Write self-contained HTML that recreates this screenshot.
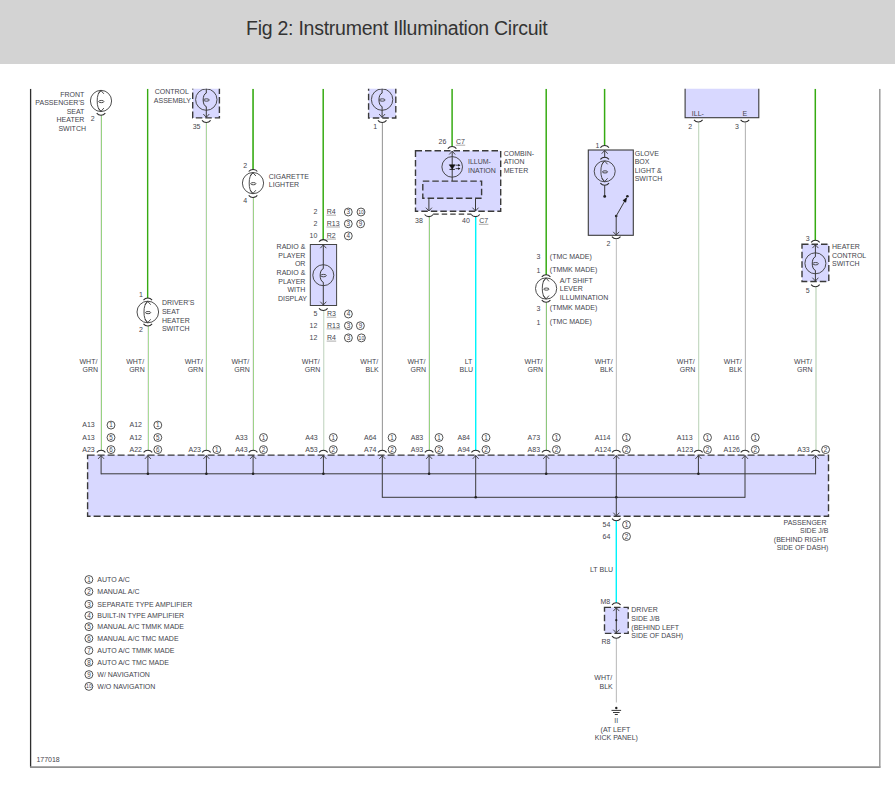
<!DOCTYPE html>
<html><head><meta charset="utf-8"><title>Fig 2: Instrument Illumination Circuit</title>
<style>
html,body{margin:0;padding:0;background:#fff;}
body{width:895px;height:788px;overflow:hidden;position:relative;font-family:"Liberation Sans",sans-serif;}
#hdr{position:absolute;left:0;top:0;width:895px;height:63.5px;background:#d3d3d3;}
#ttl{position:absolute;left:246px;top:16px;font-size:19.5px;line-height:24px;color:#333;white-space:nowrap;letter-spacing:-0.25px;}
svg{position:absolute;left:0;top:0;}
svg text{font-family:"Liberation Sans",sans-serif;fill:#45454d;}
</style></head><body>
<div id="hdr"></div>
<div id="ttl">Fig 2: Instrument Illumination Circuit</div>
<svg width="895" height="788" viewBox="0 0 895 788">
<defs><clipPath id="cp"><rect x="0" y="88.7" width="895" height="700"/></clipPath></defs>
<g clip-path="url(#cp)">
<line x1="30.6" y1="88.7" x2="30.6" y2="767.3" stroke="#2e2e2e" stroke-width="1.3" />
<line x1="30" y1="767.1" x2="880.5" y2="767.1" stroke="#8f8f8f" stroke-width="1.6" />
<line x1="879.8" y1="88.7" x2="879.8" y2="767.5" stroke="#9a9a9a" stroke-width="1.5" />
<line x1="147.65" y1="88.7" x2="147.65" y2="298.1" stroke="#36ab12" stroke-width="1.4" />
<line x1="253.05" y1="88.7" x2="253.05" y2="169.5" stroke="#36ab12" stroke-width="1.6" />
<line x1="323.2" y1="88.7" x2="323.2" y2="239.8" stroke="#36ab12" stroke-width="1.5" />
<line x1="452.1" y1="88.7" x2="452.1" y2="146.6" stroke="#36ab12" stroke-width="1.5" />
<line x1="546.2" y1="88.7" x2="546.2" y2="274.9" stroke="#36ab12" stroke-width="1.5" />
<line x1="604.6" y1="88.7" x2="604.6" y2="145.7" stroke="#36ab12" stroke-width="1.5" />
<line x1="815.3" y1="88.7" x2="815.3" y2="240.2" stroke="#36ab12" stroke-width="1.5" />
<line x1="100.5" y1="115.2" x2="100.5" y2="450.4" stroke="#efe9ec" stroke-width="1" />
<line x1="101.5" y1="115.2" x2="101.5" y2="450.4" stroke="#96d282" stroke-width="1" />
<line x1="147.5" y1="326" x2="147.5" y2="450.4" stroke="#efe9ec" stroke-width="1" />
<line x1="148.5" y1="326" x2="148.5" y2="450.4" stroke="#a8dc98" stroke-width="1" />
<line x1="205.5" y1="122.4" x2="205.5" y2="450.4" stroke="#f3ecf2" stroke-width="1" />
<line x1="206.5" y1="122.4" x2="206.5" y2="450.4" stroke="#aad79e" stroke-width="1" />
<line x1="252.5" y1="197.4" x2="252.5" y2="450.4" stroke="#f1eaf0" stroke-width="1" />
<line x1="253.5" y1="197.4" x2="253.5" y2="450.4" stroke="#9cd288" stroke-width="1" />
<line x1="324.5" y1="310.4" x2="324.5" y2="450.4" stroke="#ecf5ea" stroke-width="1" />
<line x1="323.5" y1="310.4" x2="323.5" y2="450.4" stroke="#cfdccf" stroke-width="1" />
<line x1="381.5" y1="122.4" x2="381.5" y2="450.4" stroke="#f0f0f0" stroke-width="1" />
<line x1="382.5" y1="122.4" x2="382.5" y2="450.4" stroke="#a0a0a0" stroke-width="1" />
<line x1="428.5" y1="216.6" x2="428.5" y2="450.4" stroke="#eee9ec" stroke-width="1" />
<line x1="429.5" y1="216.6" x2="429.5" y2="450.4" stroke="#96d482" stroke-width="1" />
<line x1="475.7" y1="216.6" x2="475.7" y2="450.4" stroke="#00f4fb" stroke-width="1.45" />
<line x1="545.5" y1="302.3" x2="545.5" y2="450.4" stroke="#f0f0ec" stroke-width="1" />
<line x1="546.5" y1="302.3" x2="546.5" y2="450.4" stroke="#8cc87d" stroke-width="1" />
<line x1="615.5" y1="239.5" x2="615.5" y2="450.4" stroke="#f4f4f4" stroke-width="1" />
<line x1="616.5" y1="239.5" x2="616.5" y2="450.4" stroke="#c6c6c6" stroke-width="1" />
<line x1="699.5" y1="122.5" x2="699.5" y2="450.4" stroke="#eef9ee" stroke-width="1" />
<line x1="698.5" y1="122.5" x2="698.5" y2="450.4" stroke="#c8dac6" stroke-width="1" />
<line x1="744.5" y1="122.5" x2="744.5" y2="450.4" stroke="#f4f4f4" stroke-width="1" />
<line x1="745.5" y1="122.5" x2="745.5" y2="450.4" stroke="#b9b9b9" stroke-width="1" />
<line x1="816" y1="286.7" x2="816" y2="450.4" stroke="#d6e4d4" stroke-width="2" />
<line x1="616.3" y1="520.7" x2="616.3" y2="602.8" stroke="#00f4fb" stroke-width="1.45" />
<line x1="615.5" y1="638.3" x2="615.5" y2="702.5" stroke="#f4f4f4" stroke-width="1" />
<line x1="616.5" y1="638.3" x2="616.5" y2="702.5" stroke="#c2c2c2" stroke-width="1" />
<circle cx="101" cy="100.95" r="10.6" fill="none" stroke="#3a3a3a" stroke-width="0.9"/>
<path d="M101,90.35000000000001 C98.4,92.55000000000001 97.1,95.95 97.2,100.95 C97.1,105.95 98.4,109.35 101,111.55" fill="none" stroke="#3a3a3a" stroke-width="0.9"/>
<ellipse cx="101.3" cy="101.55" rx="2.6" ry="1.1" fill="none" stroke="#3a3a3a" stroke-width="0.9"/>
<path d="M98.1,93.85000000000001 L101,90.65 L103.9,93.85000000000001" fill="none" stroke="#3a3a3a" stroke-width="0.9"/>
<path d="M98.1,108.05 L101,111.25 L103.9,108.05" fill="none" stroke="#3a3a3a" stroke-width="0.9"/>
<path d="M96.7,113.10000000000001 Q98.4,115.2 101,115.2 Q103.6,115.2 105.3,113.10000000000001" fill="none" stroke="#2c2c2c" stroke-width="1.05"/>
<text x="84.4" y="97" text-anchor="end" font-size="7" >FRONT</text>
<text x="84.4" y="105.1" text-anchor="end" font-size="7" >PASSENGER'S</text>
<text x="84.4" y="113.5" text-anchor="end" font-size="7" >SEAT</text>
<text x="84.4" y="121.7" text-anchor="end" font-size="7" >HEATER</text>
<text x="86" y="130.9" text-anchor="end" font-size="7" >SWITCH</text>
<text x="92.8" y="121.4" text-anchor="middle" font-size="7" >2</text>
<path d="M143.5,300.1 Q145.20000000000002,298 147.8,298 Q150.4,298 152.10000000000002,300.1" fill="none" stroke="#2c2c2c" stroke-width="1.05"/>
<circle cx="147.8" cy="312" r="10.8" fill="none" stroke="#3a3a3a" stroke-width="0.9"/>
<path d="M147.8,301.2 C145.20000000000002,303.4 143.9,307 144.0,312 C143.9,317 145.20000000000002,320.6 147.8,322.8" fill="none" stroke="#3a3a3a" stroke-width="0.9"/>
<ellipse cx="148.10000000000002" cy="312.6" rx="2.6" ry="1.1" fill="none" stroke="#3a3a3a" stroke-width="0.9"/>
<path d="M144.9,304.7 L147.8,301.5 L150.70000000000002,304.7" fill="none" stroke="#3a3a3a" stroke-width="0.9"/>
<path d="M144.9,319.3 L147.8,322.5 L150.70000000000002,319.3" fill="none" stroke="#3a3a3a" stroke-width="0.9"/>
<path d="M143.5,323.9 Q145.20000000000002,326 147.8,326 Q150.4,326 152.10000000000002,323.9" fill="none" stroke="#2c2c2c" stroke-width="1.05"/>
<text x="140.9" y="296.9" text-anchor="middle" font-size="7" >1</text>
<text x="140.9" y="332.1" text-anchor="middle" font-size="7" >2</text>
<text x="161.9" y="304.6" font-size="7" >DRIVER'S</text>
<text x="161.9" y="313.6" font-size="7" >SEAT</text>
<text x="161.9" y="322.5" font-size="7" >HEATER</text>
<text x="161.9" y="330.9" font-size="7" >SWITCH</text>
<rect x="192.7" y="85.7" width="26.7" height="32.2" fill="#d8d8ff" stroke="#3a3a3a" stroke-width="1.4" stroke-dasharray="6.5 3"/>
<circle cx="206.3" cy="99.6" r="10.7" fill="none" stroke="#3a3a3a" stroke-width="0.9"/>
<path d="M206.3,85.7 L206.3,93.1 C202.10000000000002,94.1 202.10000000000002,105.6 206.3,106.6 L206.3,117.6" fill="none" stroke="#3a3a3a" stroke-width="1"/>
<ellipse cx="206.5" cy="100.0" rx="2.8" ry="1.2" fill="none" stroke="#3a3a3a" stroke-width="0.9"/>
<path d="M203.3,114.0 L206.3,117.3 L209.3,114.0" fill="none" stroke="#3a3a3a" stroke-width="0.9"/>
<path d="M202.0,120.30000000000001 Q203.70000000000002,122.4 206.3,122.4 Q208.9,122.4 210.60000000000002,120.30000000000001" fill="none" stroke="#2c2c2c" stroke-width="1.05"/>
<text x="154.7" y="94" font-size="7" >CONTROL</text>
<text x="153.8" y="102.9" font-size="7" >ASSEMBLY</text>
<text x="196.6" y="128.7" text-anchor="middle" font-size="7" >35</text>
<path d="M248.7,171.5 Q250.4,169.4 253,169.4 Q255.6,169.4 257.3,171.5" fill="none" stroke="#2c2c2c" stroke-width="1.05"/>
<circle cx="253" cy="183.1" r="10.6" fill="none" stroke="#3a3a3a" stroke-width="0.9"/>
<path d="M253,172.5 C250.4,174.7 249.1,178.1 249.2,183.1 C249.1,188.1 250.4,191.5 253,193.7" fill="none" stroke="#3a3a3a" stroke-width="0.9"/>
<ellipse cx="253.3" cy="183.7" rx="2.6" ry="1.1" fill="none" stroke="#3a3a3a" stroke-width="0.9"/>
<path d="M250.1,176.00000000000003 L253,172.8 L255.9,176.00000000000003" fill="none" stroke="#3a3a3a" stroke-width="0.9"/>
<path d="M250.1,190.19999999999996 L253,193.39999999999998 L255.9,190.19999999999996" fill="none" stroke="#3a3a3a" stroke-width="0.9"/>
<path d="M248.7,195.3 Q250.4,197.4 253,197.4 Q255.6,197.4 257.3,195.3" fill="none" stroke="#2c2c2c" stroke-width="1.05"/>
<text x="245.2" y="167.9" text-anchor="middle" font-size="7" >2</text>
<text x="245.2" y="203.0" text-anchor="middle" font-size="7" >4</text>
<text x="268.8" y="178.8" font-size="7" >CIGARETTE</text>
<text x="268.8" y="186.6" font-size="7" >LIGHTER</text>
<text x="317.3" y="214.2" text-anchor="end" font-size="7" >2</text>
<text x="326.8" y="214.2" font-size="7" >R4</text>
<line x1="326.5" y1="215.2" x2="336.0" y2="215.2" stroke="#888" stroke-width="0.7" />
<circle cx="348.3" cy="212.0" r="3.95" fill="#fff" stroke="#333" stroke-width="0.85"/>
<text x="348.3" y="214.25" text-anchor="middle" font-size="6.3">3</text>
<circle cx="361" cy="212.0" r="3.95" fill="#fff" stroke="#333" stroke-width="0.85"/>
<text x="361" y="214.0" text-anchor="middle" font-size="5.2" textLength="5.6" lengthAdjust="spacingAndGlyphs">10</text>
<text x="317.3" y="226.0" text-anchor="end" font-size="7" >2</text>
<text x="326.8" y="226.0" font-size="7" >R13</text>
<line x1="326.5" y1="227.0" x2="340.0" y2="227.0" stroke="#888" stroke-width="0.7" />
<circle cx="348.3" cy="223.8" r="3.95" fill="#fff" stroke="#333" stroke-width="0.85"/>
<text x="348.3" y="226.05" text-anchor="middle" font-size="6.3">3</text>
<circle cx="360.6" cy="223.8" r="3.95" fill="#fff" stroke="#333" stroke-width="0.85"/>
<text x="360.6" y="226.05" text-anchor="middle" font-size="6.3">9</text>
<text x="317.3" y="238.1" text-anchor="end" font-size="7" >10</text>
<text x="326.8" y="238.1" font-size="7" >R2</text>
<line x1="326.5" y1="239.1" x2="336.0" y2="239.1" stroke="#888" stroke-width="0.7" />
<circle cx="348.3" cy="235.9" r="3.95" fill="#fff" stroke="#333" stroke-width="0.85"/>
<text x="348.3" y="238.15" text-anchor="middle" font-size="6.3">4</text>
<path d="M319.0,241.7 Q320.7,239.6 323.3,239.6 Q325.90000000000003,239.6 327.6,241.7" fill="none" stroke="#2c2c2c" stroke-width="1.05"/>
<rect x="310.3" y="244.5" width="26.3" height="61" fill="#d8d8ff" stroke="#444" stroke-width="1"/>
<circle cx="323.3" cy="275.2" r="10.5" fill="none" stroke="#3a3a3a" stroke-width="0.9"/>
<path d="M323.3,244.6 L323.3,268.7 C319.1,269.7 319.1,281.2 323.3,282.2 L323.3,305.3" fill="none" stroke="#3a3a3a" stroke-width="1"/>
<ellipse cx="323.5" cy="275.59999999999997" rx="2.8" ry="1.2" fill="none" stroke="#3a3a3a" stroke-width="0.9"/>
<path d="M320.3,248.20000000000002 L323.3,244.9 L326.3,248.20000000000002" fill="none" stroke="#3a3a3a" stroke-width="0.9"/>
<path d="M320.3,301.7 L323.3,305.0 L326.3,301.7" fill="none" stroke="#3a3a3a" stroke-width="0.9"/>
<path d="M319.0,308.29999999999995 Q320.7,310.4 323.3,310.4 Q325.90000000000003,310.4 327.6,308.29999999999995" fill="none" stroke="#2c2c2c" stroke-width="1.05"/>
<text x="305.4" y="248.8" text-anchor="end" font-size="7" >RADIO &amp;</text>
<text x="305.4" y="257.7" text-anchor="end" font-size="7" >PLAYER</text>
<text x="305.4" y="266" text-anchor="end" font-size="7" >OR</text>
<text x="305.4" y="274.9" text-anchor="end" font-size="7" >RADIO &amp;</text>
<text x="305.4" y="283.7" text-anchor="end" font-size="7" >PLAYER</text>
<text x="305.4" y="292" text-anchor="end" font-size="7" >WITH</text>
<text x="307" y="300.9" text-anchor="end" font-size="7" >DISPLAY</text>
<text x="317.3" y="316.2" text-anchor="end" font-size="7" >5</text>
<text x="327" y="316.2" font-size="7" >R3</text>
<line x1="326.7" y1="317.2" x2="336.2" y2="317.2" stroke="#888" stroke-width="0.7" />
<circle cx="348.4" cy="314.0" r="3.95" fill="#fff" stroke="#333" stroke-width="0.85"/>
<text x="348.4" y="316.25" text-anchor="middle" font-size="6.3">4</text>
<text x="317.3" y="327.9" text-anchor="end" font-size="7" >12</text>
<text x="327" y="327.9" font-size="7" >R13</text>
<line x1="326.7" y1="328.9" x2="340.2" y2="328.9" stroke="#888" stroke-width="0.7" />
<circle cx="348.4" cy="325.7" r="3.95" fill="#fff" stroke="#333" stroke-width="0.85"/>
<text x="348.4" y="327.95" text-anchor="middle" font-size="6.3">3</text>
<circle cx="360.4" cy="325.7" r="3.95" fill="#fff" stroke="#333" stroke-width="0.85"/>
<text x="360.4" y="327.95" text-anchor="middle" font-size="6.3">9</text>
<text x="317.3" y="340.1" text-anchor="end" font-size="7" >12</text>
<text x="327" y="340.1" font-size="7" >R4</text>
<line x1="326.7" y1="341.1" x2="336.2" y2="341.1" stroke="#888" stroke-width="0.7" />
<circle cx="348.4" cy="337.90000000000003" r="3.95" fill="#fff" stroke="#333" stroke-width="0.85"/>
<text x="348.4" y="340.15000000000003" text-anchor="middle" font-size="6.3">3</text>
<circle cx="361.4" cy="337.90000000000003" r="3.95" fill="#fff" stroke="#333" stroke-width="0.85"/>
<text x="361.4" y="339.90000000000003" text-anchor="middle" font-size="5.2" textLength="5.6" lengthAdjust="spacingAndGlyphs">10</text>
<rect x="368.6" y="85.7" width="27.2" height="32.3" fill="#d8d8ff" stroke="#3a3a3a" stroke-width="1.4" stroke-dasharray="6.5 3"/>
<circle cx="382.1" cy="99.6" r="10.7" fill="none" stroke="#3a3a3a" stroke-width="0.9"/>
<path d="M382.1,85.7 L382.1,93.1 C377.90000000000003,94.1 377.90000000000003,105.6 382.1,106.6 L382.1,117.6" fill="none" stroke="#3a3a3a" stroke-width="1"/>
<ellipse cx="382.3" cy="100.0" rx="2.8" ry="1.2" fill="none" stroke="#3a3a3a" stroke-width="0.9"/>
<path d="M379.1,114.0 L382.1,117.3 L385.1,114.0" fill="none" stroke="#3a3a3a" stroke-width="0.9"/>
<path d="M377.9,120.30000000000001 Q379.59999999999997,122.4 382.2,122.4 Q384.8,122.4 386.5,120.30000000000001" fill="none" stroke="#2c2c2c" stroke-width="1.05"/>
<text x="375.3" y="128.7" text-anchor="middle" font-size="7" >1</text>
<text x="442.4" y="144.2" text-anchor="middle" font-size="7" >26</text>
<text x="456" y="144.2" font-size="7" >C7</text>
<line x1="455.7" y1="145.2" x2="465.2" y2="145.2" stroke="#888" stroke-width="0.7" />
<path d="M447.8,148.6 Q449.5,146.5 452.1,146.5 Q454.70000000000005,146.5 456.40000000000003,148.6" fill="none" stroke="#2c2c2c" stroke-width="1.05"/>
<rect x="415.5" y="150.8" width="85.2" height="60.4" fill="#d8d8ff" stroke="#3a3a3a" stroke-width="1.4" stroke-dasharray="6.5 3"/>
<rect x="422.8" y="181.1" width="58.8" height="17.2" fill="#cdcdff" stroke="#3a3a3a" stroke-width="1.4" stroke-dasharray="6.5 3"/>
<circle cx="452.2" cy="166.9" r="10.3" fill="none" stroke="#3a3a3a" stroke-width="0.9"/>
<line x1="452.2" y1="151" x2="452.2" y2="181" stroke="#3a3a3a" stroke-width="1" />
<path d="M449.2,154.5 L452.2,151.2 L455.2,154.5" fill="none" stroke="#3a3a3a" stroke-width="0.9"/>
<path d="M449.3,164.8 L455.1,164.8 L452.2,169 Z" fill="#111" stroke="#111" stroke-width="0.6"/>
<line x1="449.5" y1="169.4" x2="454.9" y2="169.4" stroke="#111" stroke-width="0.9" />
<line x1="455.6" y1="165.2" x2="459.6" y2="165.2" stroke="#222" stroke-width="0.8" />
<path d="M458.2,163.89999999999998 L460.3,165.2 L458.2,166.5 Z" fill="#111"/>
<line x1="455.6" y1="168.6" x2="459.6" y2="168.6" stroke="#222" stroke-width="0.8" />
<path d="M458.2,167.29999999999998 L460.3,168.6 L458.2,169.9 Z" fill="#111"/>
<line x1="428.9" y1="198.4" x2="428.9" y2="211" stroke="#3a3a3a" stroke-width="1" />
<path d="M425.9,207.7 L428.9,211 L431.9,207.7" fill="none" stroke="#3a3a3a" stroke-width="0.9"/>
<path d="M424.59999999999997,214.5 Q426.29999999999995,216.6 428.9,216.6 Q431.5,216.6 433.2,214.5" fill="none" stroke="#2c2c2c" stroke-width="1.05"/>
<line x1="475.5" y1="198.4" x2="475.5" y2="211" stroke="#3a3a3a" stroke-width="1" />
<path d="M472.5,207.7 L475.5,211 L478.5,207.7" fill="none" stroke="#3a3a3a" stroke-width="0.9"/>
<path d="M471.2,214.5 Q472.9,216.6 475.5,216.6 Q478.1,216.6 479.8,214.5" fill="none" stroke="#2c2c2c" stroke-width="1.05"/>
<line x1="433.2" y1="214.2" x2="471.3" y2="214.2" stroke="#3a3a3a" stroke-width="1.2" stroke-dasharray="5.5 3"/>
<text x="419" y="223.3" text-anchor="middle" font-size="7" >38</text>
<text x="466" y="223.3" text-anchor="middle" font-size="7" >40</text>
<text x="479.2" y="223.3" font-size="7" >C7</text>
<line x1="478.9" y1="224.3" x2="488.4" y2="224.3" stroke="#888" stroke-width="0.7" />
<text x="468" y="163.8" font-size="7" >ILLUM-</text>
<text x="468" y="172.7" font-size="7" >INATION</text>
<text x="503.7" y="156" font-size="7" >COMBIN-</text>
<text x="503.7" y="164" font-size="7" >ATION</text>
<text x="503.7" y="173" font-size="7" >METER</text>
<path d="M541.8000000000001,276.8 Q543.5,274.7 546.1,274.7 Q548.7,274.7 550.4,276.8" fill="none" stroke="#2c2c2c" stroke-width="1.05"/>
<circle cx="546.1" cy="288.5" r="10.6" fill="none" stroke="#3a3a3a" stroke-width="0.9"/>
<path d="M546.1,277.9 C543.5,280.09999999999997 542.2,283.5 542.3000000000001,288.5 C542.2,293.5 543.5,296.90000000000003 546.1,299.1" fill="none" stroke="#3a3a3a" stroke-width="0.9"/>
<ellipse cx="546.4" cy="289.1" rx="2.6" ry="1.1" fill="none" stroke="#3a3a3a" stroke-width="0.9"/>
<path d="M543.2,281.4 L546.1,278.2 L549.0,281.4" fill="none" stroke="#3a3a3a" stroke-width="0.9"/>
<path d="M543.2,295.6 L546.1,298.8 L549.0,295.6" fill="none" stroke="#3a3a3a" stroke-width="0.9"/>
<path d="M541.8000000000001,300.2 Q543.5,302.3 546.1,302.3 Q548.7,302.3 550.4,300.2" fill="none" stroke="#2c2c2c" stroke-width="1.05"/>
<text x="538.4" y="259.3" text-anchor="middle" font-size="7" >3</text>
<text x="538.4" y="273.1" text-anchor="middle" font-size="7" >1</text>
<text x="538.4" y="311.2" text-anchor="middle" font-size="7" >3</text>
<text x="538.4" y="324.7" text-anchor="middle" font-size="7" >1</text>
<text x="549.8" y="259.2" font-size="7" >(TMC MADE)</text>
<text x="549.8" y="272.2" font-size="7" >(TMMK MADE)</text>
<text x="559.8" y="282.9" font-size="7" >A/T SHIFT</text>
<text x="559.8" y="291" font-size="7" >LEVER</text>
<text x="559.8" y="299.7" font-size="7" >ILLUMINATION</text>
<text x="549.8" y="310.2" font-size="7" >(TMMK MADE)</text>
<text x="549.8" y="324.3" font-size="7" >(TMC MADE)</text>
<text x="597.4" y="147.8" text-anchor="middle" font-size="7" >1</text>
<path d="M600.4000000000001,147.6 Q602.1,145.5 604.7,145.5 Q607.3000000000001,145.5 609.0,147.6" fill="none" stroke="#2c2c2c" stroke-width="1.05"/>
<rect x="588.3" y="150" width="45" height="85.3" fill="#d8d8ff" stroke="#3a3a3a" stroke-width="1.1"/>
<line x1="604.7" y1="150.2" x2="604.7" y2="157.5" stroke="#3a3a3a" stroke-width="1" />
<path d="M601.7,153.70000000000002 L604.7,150.4 L607.7,153.70000000000002" fill="none" stroke="#3a3a3a" stroke-width="0.9"/>
<path d="M600.4000000000001,159.4 Q602.1,157.3 604.7,157.3 Q607.3000000000001,157.3 609.0,159.4" fill="none" stroke="#2c2c2c" stroke-width="1.05"/>
<circle cx="604.7" cy="171.3" r="10.5" fill="none" stroke="#3a3a3a" stroke-width="0.9"/>
<path d="M604.7,160.8 C602.1,163.0 600.8000000000001,166.3 600.9000000000001,171.3 C600.8000000000001,176.3 602.1,179.60000000000002 604.7,181.8" fill="none" stroke="#3a3a3a" stroke-width="0.9"/>
<ellipse cx="605.0" cy="171.9" rx="2.6" ry="1.1" fill="none" stroke="#3a3a3a" stroke-width="0.9"/>
<path d="M601.8000000000001,164.30000000000004 L604.7,161.10000000000002 L607.6,164.30000000000004" fill="none" stroke="#3a3a3a" stroke-width="0.9"/>
<path d="M601.8000000000001,178.29999999999998 L604.7,181.5 L607.6,178.29999999999998" fill="none" stroke="#3a3a3a" stroke-width="0.9"/>
<path d="M600.4000000000001,183.1 Q602.1,185.2 604.7,185.2 Q607.3000000000001,185.2 609.0,183.1" fill="none" stroke="#2c2c2c" stroke-width="1.05"/>
<line x1="604.7" y1="185.2" x2="604.7" y2="196.3" stroke="#3a3a3a" stroke-width="1" />
<circle cx="604.7" cy="196.4" r="1.4" fill="#222"/>
<circle cx="627.4" cy="196.3" r="1.3" fill="#222"/>
<circle cx="616.2" cy="216" r="1.3" fill="#222"/>
<line x1="616.2" y1="216" x2="626.3" y2="198.3" stroke="#3a3a3a" stroke-width="1" />
<path d="M626.6,197.8 L625.9,202.3 L622.9,200.5 Z" fill="#111" stroke="#111" stroke-width="0.5"/>
<line x1="616.2" y1="216" x2="616.2" y2="235.2" stroke="#3a3a3a" stroke-width="1" />
<path d="M613.2,231.79999999999998 L616.2,235.1 L619.2,231.79999999999998" fill="none" stroke="#3a3a3a" stroke-width="0.9"/>
<path d="M611.9000000000001,236.70000000000002 Q613.6,238.8 616.2,238.8 Q618.8000000000001,238.8 620.5,236.70000000000002" fill="none" stroke="#2c2c2c" stroke-width="1.05"/>
<text x="608.5" y="246.3" text-anchor="middle" font-size="7" >2</text>
<text x="634.7" y="155.9" font-size="7" >GLOVE</text>
<text x="634.7" y="164" font-size="7" >BOX</text>
<text x="634.7" y="172.7" font-size="7" >LIGHT &amp;</text>
<text x="634.7" y="180.7" font-size="7" >SWITCH</text>
<rect x="685.1" y="85.7" width="73.7" height="32.0" fill="#d8d8ff" stroke="#3a3a3a" stroke-width="1.1"/>
<text x="691.8" y="115.6" font-size="7" >ILL-</text>
<text x="742.6" y="115.6" font-size="7" >E</text>
<path d="M694.0,119.80000000000001 Q695.6999999999999,121.9 698.3,121.9 Q700.9,121.9 702.5999999999999,119.80000000000001" fill="none" stroke="#2c2c2c" stroke-width="1.05"/>
<path d="M740.6,119.80000000000001 Q742.3,121.9 744.9,121.9 Q747.5,121.9 749.1999999999999,119.80000000000001" fill="none" stroke="#2c2c2c" stroke-width="1.05"/>
<text x="690.1" y="129.1" text-anchor="middle" font-size="7" >2</text>
<text x="737" y="129.1" text-anchor="middle" font-size="7" >3</text>
<text x="807.6" y="240.9" text-anchor="middle" font-size="7" >3</text>
<text x="807.6" y="293.1" text-anchor="middle" font-size="7" >5</text>
<path d="M811.1,242.29999999999998 Q812.8,240.2 815.4,240.2 Q818.0,240.2 819.6999999999999,242.29999999999998" fill="none" stroke="#2c2c2c" stroke-width="1.05"/>
<rect x="802" y="244.3" width="26.8" height="37.2" fill="#d8d8ff" stroke="#3a3a3a" stroke-width="1.4" stroke-dasharray="6.5 3"/>
<circle cx="815.4" cy="263.3" r="10.5" fill="none" stroke="#3a3a3a" stroke-width="0.9"/>
<path d="M815.4,244.5 L815.4,256.8 C811.1999999999999,257.8 811.1999999999999,269.3 815.4,270.3 L815.4,281.3" fill="none" stroke="#3a3a3a" stroke-width="1"/>
<ellipse cx="815.6" cy="263.7" rx="2.8" ry="1.2" fill="none" stroke="#3a3a3a" stroke-width="0.9"/>
<path d="M812.4,248.10000000000002 L815.4,244.8 L818.4,248.10000000000002" fill="none" stroke="#3a3a3a" stroke-width="0.9"/>
<path d="M812.4,277.7 L815.4,281.0 L818.4,277.7" fill="none" stroke="#3a3a3a" stroke-width="0.9"/>
<path d="M811.1,284.59999999999997 Q812.8,286.7 815.4,286.7 Q818.0,286.7 819.6999999999999,284.59999999999997" fill="none" stroke="#2c2c2c" stroke-width="1.05"/>
<text x="832" y="248.8" font-size="7" >HEATER</text>
<text x="832" y="258" font-size="7" >CONTROL</text>
<text x="832" y="265.6" font-size="7" >SWITCH</text>
<text x="97.4" y="364.2" text-anchor="end" font-size="7" >WHT/</text>
<text x="98.0" y="372.1" text-anchor="end" font-size="7" >GRN</text>
<text x="144.1" y="364.2" text-anchor="end" font-size="7" >WHT/</text>
<text x="144.7" y="372.1" text-anchor="end" font-size="7" >GRN</text>
<text x="202.6" y="364.2" text-anchor="end" font-size="7" >WHT/</text>
<text x="203.2" y="372.1" text-anchor="end" font-size="7" >GRN</text>
<text x="249.3" y="364.2" text-anchor="end" font-size="7" >WHT/</text>
<text x="249.9" y="372.1" text-anchor="end" font-size="7" >GRN</text>
<text x="319.7" y="364.2" text-anchor="end" font-size="7" >WHT/</text>
<text x="320.3" y="372.1" text-anchor="end" font-size="7" >GRN</text>
<text x="378.2" y="364.2" text-anchor="end" font-size="7" >WHT/</text>
<text x="378.8" y="372.1" text-anchor="end" font-size="7" >BLK</text>
<text x="425.4" y="364.2" text-anchor="end" font-size="7" >WHT/</text>
<text x="426.0" y="372.1" text-anchor="end" font-size="7" >GRN</text>
<text x="472.3" y="364.2" text-anchor="end" font-size="7" >LT</text>
<text x="473.1" y="372.1" text-anchor="end" font-size="7" >BLU</text>
<text x="542.5" y="364.2" text-anchor="end" font-size="7" >WHT/</text>
<text x="543.1" y="372.1" text-anchor="end" font-size="7" >GRN</text>
<text x="612.6" y="364.2" text-anchor="end" font-size="7" >WHT/</text>
<text x="613.2" y="372.1" text-anchor="end" font-size="7" >BLK</text>
<text x="694.6999999999999" y="364.2" text-anchor="end" font-size="7" >WHT/</text>
<text x="695.3" y="372.1" text-anchor="end" font-size="7" >GRN</text>
<text x="741.6999999999999" y="364.2" text-anchor="end" font-size="7" >WHT/</text>
<text x="742.3" y="372.1" text-anchor="end" font-size="7" >BLK</text>
<text x="812.0" y="364.2" text-anchor="end" font-size="7" >WHT/</text>
<text x="812.6" y="372.1" text-anchor="end" font-size="7" >GRN</text>
<text x="82.3" y="427.4" font-size="7" >A13</text>
<circle cx="111" cy="425.09999999999997" r="3.95" fill="#fff" stroke="#333" stroke-width="0.85"/>
<text x="111" y="427.34999999999997" text-anchor="middle" font-size="6.3">1</text>
<text x="82.3" y="439.8" font-size="7" >A13</text>
<circle cx="111" cy="437.5" r="3.95" fill="#fff" stroke="#333" stroke-width="0.85"/>
<text x="111" y="439.75" text-anchor="middle" font-size="6.3">5</text>
<text x="82.3" y="451.9" font-size="7" >A23</text>
<circle cx="111" cy="449.59999999999997" r="3.95" fill="#fff" stroke="#333" stroke-width="0.85"/>
<text x="111" y="451.84999999999997" text-anchor="middle" font-size="6.3">6</text>
<text x="129.5" y="427.4" font-size="7" >A12</text>
<circle cx="157.8" cy="425.09999999999997" r="3.95" fill="#fff" stroke="#333" stroke-width="0.85"/>
<text x="157.8" y="427.34999999999997" text-anchor="middle" font-size="6.3">1</text>
<text x="129.5" y="439.8" font-size="7" >A12</text>
<circle cx="157.8" cy="437.5" r="3.95" fill="#fff" stroke="#333" stroke-width="0.85"/>
<text x="157.8" y="439.75" text-anchor="middle" font-size="6.3">5</text>
<text x="129.5" y="451.9" font-size="7" >A22</text>
<circle cx="157.8" cy="449.59999999999997" r="3.95" fill="#fff" stroke="#333" stroke-width="0.85"/>
<text x="157.8" y="451.84999999999997" text-anchor="middle" font-size="6.3">6</text>
<text x="188.5" y="451.9" font-size="7" >A23</text>
<circle cx="216.8" cy="449.59999999999997" r="3.95" fill="#fff" stroke="#333" stroke-width="0.85"/>
<text x="216.8" y="451.84999999999997" text-anchor="middle" font-size="6.3">1</text>
<text x="235.2" y="439.8" font-size="7" >A33</text>
<circle cx="263.5" cy="437.5" r="3.95" fill="#fff" stroke="#333" stroke-width="0.85"/>
<text x="263.5" y="439.75" text-anchor="middle" font-size="6.3">1</text>
<text x="235.2" y="451.9" font-size="7" >A43</text>
<circle cx="263.5" cy="449.59999999999997" r="3.95" fill="#fff" stroke="#333" stroke-width="0.85"/>
<text x="263.5" y="451.84999999999997" text-anchor="middle" font-size="6.3">2</text>
<text x="305.3" y="439.8" font-size="7" >A43</text>
<circle cx="333.3" cy="437.5" r="3.95" fill="#fff" stroke="#333" stroke-width="0.85"/>
<text x="333.3" y="439.75" text-anchor="middle" font-size="6.3">1</text>
<text x="305.3" y="451.9" font-size="7" >A53</text>
<circle cx="333.3" cy="449.59999999999997" r="3.95" fill="#fff" stroke="#333" stroke-width="0.85"/>
<text x="333.3" y="451.84999999999997" text-anchor="middle" font-size="6.3">2</text>
<text x="364" y="439.8" font-size="7" >A64</text>
<circle cx="392.1" cy="437.5" r="3.95" fill="#fff" stroke="#333" stroke-width="0.85"/>
<text x="392.1" y="439.75" text-anchor="middle" font-size="6.3">1</text>
<text x="364" y="451.9" font-size="7" >A74</text>
<circle cx="392.1" cy="449.59999999999997" r="3.95" fill="#fff" stroke="#333" stroke-width="0.85"/>
<text x="392.1" y="451.84999999999997" text-anchor="middle" font-size="6.3">2</text>
<text x="410.8" y="439.8" font-size="7" >A83</text>
<circle cx="439" cy="437.5" r="3.95" fill="#fff" stroke="#333" stroke-width="0.85"/>
<text x="439" y="439.75" text-anchor="middle" font-size="6.3">1</text>
<text x="410.8" y="451.9" font-size="7" >A93</text>
<circle cx="439" cy="449.59999999999997" r="3.95" fill="#fff" stroke="#333" stroke-width="0.85"/>
<text x="439" y="451.84999999999997" text-anchor="middle" font-size="6.3">2</text>
<text x="457.5" y="439.8" font-size="7" >A84</text>
<circle cx="486" cy="437.5" r="3.95" fill="#fff" stroke="#333" stroke-width="0.85"/>
<text x="486" y="439.75" text-anchor="middle" font-size="6.3">1</text>
<text x="457.5" y="451.9" font-size="7" >A94</text>
<circle cx="486" cy="449.59999999999997" r="3.95" fill="#fff" stroke="#333" stroke-width="0.85"/>
<text x="486" y="451.84999999999997" text-anchor="middle" font-size="6.3">2</text>
<text x="527.6" y="439.8" font-size="7" >A73</text>
<circle cx="556.4" cy="437.5" r="3.95" fill="#fff" stroke="#333" stroke-width="0.85"/>
<text x="556.4" y="439.75" text-anchor="middle" font-size="6.3">1</text>
<text x="527.6" y="451.9" font-size="7" >A83</text>
<circle cx="556.4" cy="449.59999999999997" r="3.95" fill="#fff" stroke="#333" stroke-width="0.85"/>
<text x="556.4" y="451.84999999999997" text-anchor="middle" font-size="6.3">2</text>
<text x="594.7" y="439.8" font-size="7" >A114</text>
<circle cx="626.4" cy="437.5" r="3.95" fill="#fff" stroke="#333" stroke-width="0.85"/>
<text x="626.4" y="439.75" text-anchor="middle" font-size="6.3">1</text>
<text x="594.7" y="451.9" font-size="7" >A124</text>
<circle cx="626.4" cy="449.59999999999997" r="3.95" fill="#fff" stroke="#333" stroke-width="0.85"/>
<text x="626.4" y="451.84999999999997" text-anchor="middle" font-size="6.3">2</text>
<text x="676.8" y="439.8" font-size="7" >A113</text>
<circle cx="707.5" cy="437.5" r="3.95" fill="#fff" stroke="#333" stroke-width="0.85"/>
<text x="707.5" y="439.75" text-anchor="middle" font-size="6.3">1</text>
<text x="676.8" y="451.9" font-size="7" >A123</text>
<circle cx="707.5" cy="449.59999999999997" r="3.95" fill="#fff" stroke="#333" stroke-width="0.85"/>
<text x="707.5" y="451.84999999999997" text-anchor="middle" font-size="6.3">2</text>
<text x="723.6" y="439.8" font-size="7" >A116</text>
<circle cx="755.3" cy="437.5" r="3.95" fill="#fff" stroke="#333" stroke-width="0.85"/>
<text x="755.3" y="439.75" text-anchor="middle" font-size="6.3">1</text>
<text x="723.6" y="451.9" font-size="7" >A126</text>
<circle cx="755.3" cy="449.59999999999997" r="3.95" fill="#fff" stroke="#333" stroke-width="0.85"/>
<text x="755.3" y="451.84999999999997" text-anchor="middle" font-size="6.3">2</text>
<text x="797.3" y="451.9" font-size="7" >A33</text>
<circle cx="825.6" cy="449.59999999999997" r="3.95" fill="#fff" stroke="#333" stroke-width="0.85"/>
<text x="825.6" y="451.84999999999997" text-anchor="middle" font-size="6.3">2</text>
<rect x="87.6" y="455.1" width="740.9" height="61.2" fill="#d8d8ff" stroke="#3a3a3a" stroke-width="1.4" stroke-dasharray="7 3"/>
<line x1="101.1" y1="473.8" x2="815.6" y2="473.8" stroke="#3a3a3a" stroke-width="1" />
<line x1="382.3" y1="497.3" x2="745" y2="497.3" stroke="#3a3a3a" stroke-width="1" />
<line x1="101.1" y1="455.4" x2="101.1" y2="474.3" stroke="#3a3a3a" stroke-width="1" />
<path d="M98.1,458.90000000000003 L101.1,455.6 L104.1,458.90000000000003" fill="none" stroke="#3a3a3a" stroke-width="0.9"/>
<path d="M96.8,452.3 Q98.5,450.2 101.1,450.2 Q103.69999999999999,450.2 105.39999999999999,452.3" fill="none" stroke="#2c2c2c" stroke-width="1.05"/>
<line x1="147.9" y1="455.4" x2="147.9" y2="474.3" stroke="#3a3a3a" stroke-width="1" />
<path d="M144.9,458.90000000000003 L147.9,455.6 L150.9,458.90000000000003" fill="none" stroke="#3a3a3a" stroke-width="0.9"/>
<path d="M143.6,452.3 Q145.3,450.2 147.9,450.2 Q150.5,450.2 152.20000000000002,452.3" fill="none" stroke="#2c2c2c" stroke-width="1.05"/>
<circle cx="147.9" cy="473.8" r="1.3" fill="#222"/>
<line x1="206.4" y1="455.4" x2="206.4" y2="474.3" stroke="#3a3a3a" stroke-width="1" />
<path d="M203.4,458.90000000000003 L206.4,455.6 L209.4,458.90000000000003" fill="none" stroke="#3a3a3a" stroke-width="0.9"/>
<path d="M202.1,452.3 Q203.8,450.2 206.4,450.2 Q209.0,450.2 210.70000000000002,452.3" fill="none" stroke="#2c2c2c" stroke-width="1.05"/>
<circle cx="206.4" cy="473.8" r="1.3" fill="#222"/>
<line x1="253.1" y1="455.4" x2="253.1" y2="474.3" stroke="#3a3a3a" stroke-width="1" />
<path d="M250.1,458.90000000000003 L253.1,455.6 L256.1,458.90000000000003" fill="none" stroke="#3a3a3a" stroke-width="0.9"/>
<path d="M248.79999999999998,452.3 Q250.5,450.2 253.1,450.2 Q255.7,450.2 257.4,452.3" fill="none" stroke="#2c2c2c" stroke-width="1.05"/>
<circle cx="253.1" cy="473.8" r="1.3" fill="#222"/>
<line x1="323.4" y1="455.4" x2="323.4" y2="474.3" stroke="#3a3a3a" stroke-width="1" />
<path d="M320.4,458.90000000000003 L323.4,455.6 L326.4,458.90000000000003" fill="none" stroke="#3a3a3a" stroke-width="0.9"/>
<path d="M319.09999999999997,452.3 Q320.79999999999995,450.2 323.4,450.2 Q326.0,450.2 327.7,452.3" fill="none" stroke="#2c2c2c" stroke-width="1.05"/>
<circle cx="323.4" cy="473.8" r="1.3" fill="#222"/>
<line x1="429.1" y1="455.4" x2="429.1" y2="474.3" stroke="#3a3a3a" stroke-width="1" />
<path d="M426.1,458.90000000000003 L429.1,455.6 L432.1,458.90000000000003" fill="none" stroke="#3a3a3a" stroke-width="0.9"/>
<path d="M424.8,452.3 Q426.5,450.2 429.1,450.2 Q431.70000000000005,450.2 433.40000000000003,452.3" fill="none" stroke="#2c2c2c" stroke-width="1.05"/>
<circle cx="429.1" cy="473.8" r="1.3" fill="#222"/>
<line x1="546.2" y1="455.4" x2="546.2" y2="474.3" stroke="#3a3a3a" stroke-width="1" />
<path d="M543.2,458.90000000000003 L546.2,455.6 L549.2,458.90000000000003" fill="none" stroke="#3a3a3a" stroke-width="0.9"/>
<path d="M541.9000000000001,452.3 Q543.6,450.2 546.2,450.2 Q548.8000000000001,450.2 550.5,452.3" fill="none" stroke="#2c2c2c" stroke-width="1.05"/>
<circle cx="546.2" cy="473.8" r="1.3" fill="#222"/>
<line x1="698.4" y1="455.4" x2="698.4" y2="474.3" stroke="#3a3a3a" stroke-width="1" />
<path d="M695.4,458.90000000000003 L698.4,455.6 L701.4,458.90000000000003" fill="none" stroke="#3a3a3a" stroke-width="0.9"/>
<path d="M694.1,452.3 Q695.8,450.2 698.4,450.2 Q701.0,450.2 702.6999999999999,452.3" fill="none" stroke="#2c2c2c" stroke-width="1.05"/>
<circle cx="698.4" cy="473.8" r="1.3" fill="#222"/>
<line x1="815.6" y1="455.4" x2="815.6" y2="474.3" stroke="#3a3a3a" stroke-width="1" />
<path d="M812.6,458.90000000000003 L815.6,455.6 L818.6,458.90000000000003" fill="none" stroke="#3a3a3a" stroke-width="0.9"/>
<path d="M811.3000000000001,452.3 Q813.0,450.2 815.6,450.2 Q818.2,450.2 819.9,452.3" fill="none" stroke="#2c2c2c" stroke-width="1.05"/>
<line x1="382.3" y1="455.4" x2="382.3" y2="497.8" stroke="#3a3a3a" stroke-width="1" />
<path d="M379.3,458.90000000000003 L382.3,455.6 L385.3,458.90000000000003" fill="none" stroke="#3a3a3a" stroke-width="0.9"/>
<path d="M378.0,452.3 Q379.7,450.2 382.3,450.2 Q384.90000000000003,450.2 386.6,452.3" fill="none" stroke="#2c2c2c" stroke-width="1.05"/>
<line x1="475.7" y1="455.4" x2="475.7" y2="497.8" stroke="#3a3a3a" stroke-width="1" />
<path d="M472.7,458.90000000000003 L475.7,455.6 L478.7,458.90000000000003" fill="none" stroke="#3a3a3a" stroke-width="0.9"/>
<path d="M471.4,452.3 Q473.09999999999997,450.2 475.7,450.2 Q478.3,450.2 480.0,452.3" fill="none" stroke="#2c2c2c" stroke-width="1.05"/>
<circle cx="475.7" cy="497.3" r="1.3" fill="#222"/>
<line x1="616.3" y1="455.4" x2="616.3" y2="497.8" stroke="#3a3a3a" stroke-width="1" />
<path d="M613.3,458.90000000000003 L616.3,455.6 L619.3,458.90000000000003" fill="none" stroke="#3a3a3a" stroke-width="0.9"/>
<path d="M612.0,452.3 Q613.6999999999999,450.2 616.3,450.2 Q618.9,450.2 620.5999999999999,452.3" fill="none" stroke="#2c2c2c" stroke-width="1.05"/>
<circle cx="616.3" cy="497.3" r="1.3" fill="#222"/>
<line x1="745" y1="455.4" x2="745" y2="497.8" stroke="#3a3a3a" stroke-width="1" />
<path d="M742.0,458.90000000000003 L745,455.6 L748.0,458.90000000000003" fill="none" stroke="#3a3a3a" stroke-width="0.9"/>
<path d="M740.7,452.3 Q742.4,450.2 745,450.2 Q747.6,450.2 749.3,452.3" fill="none" stroke="#2c2c2c" stroke-width="1.05"/>
<line x1="616.3" y1="497.3" x2="616.3" y2="516" stroke="#3a3a3a" stroke-width="1" />
<path d="M613.3,512.7 L616.3,516 L619.3,512.7" fill="none" stroke="#3a3a3a" stroke-width="0.9"/>
<path d="M612.0,518.6 Q613.6999999999999,520.7 616.3,520.7 Q618.9,520.7 620.5999999999999,518.6" fill="none" stroke="#2c2c2c" stroke-width="1.05"/>
<text x="606.5" y="527.1" text-anchor="middle" font-size="7" >54</text>
<text x="606.5" y="538.9" text-anchor="middle" font-size="7" >64</text>
<circle cx="626.5" cy="524.7" r="3.95" fill="#fff" stroke="#333" stroke-width="0.85"/>
<text x="626.5" y="526.95" text-anchor="middle" font-size="6.3">1</text>
<circle cx="626.5" cy="536.5" r="3.95" fill="#fff" stroke="#333" stroke-width="0.85"/>
<text x="626.5" y="538.75" text-anchor="middle" font-size="6.3">2</text>
<text x="826.6" y="525.1" text-anchor="end" font-size="7" >PASSENGER</text>
<text x="828.4" y="533" text-anchor="end" font-size="7" >SIDE J/B</text>
<text x="826.3" y="541.7" text-anchor="end" font-size="7" >(BEHIND RIGHT</text>
<text x="828.4" y="549.8" text-anchor="end" font-size="7" >SIDE OF DASH)</text>
<text x="590" y="572.3" font-size="7" >LT BLU</text>
<text x="605.4" y="603.9" text-anchor="middle" font-size="7" >M8</text>
<text x="605.9" y="644.1" text-anchor="middle" font-size="7" >R8</text>
<path d="M612.0,604.8000000000001 Q613.6999999999999,602.7 616.3,602.7 Q618.9,602.7 620.5999999999999,604.8000000000001" fill="none" stroke="#2c2c2c" stroke-width="1.05"/>
<rect x="604.5" y="607.4" width="23.7" height="26" fill="#d8d8ff" stroke="#3a3a3a" stroke-width="1.4" stroke-dasharray="6.5 3"/>
<line x1="616.3" y1="607.7" x2="616.3" y2="633" stroke="#3a3a3a" stroke-width="1" />
<path d="M613.3,611.0999999999999 L616.3,607.8 L619.3,611.0999999999999" fill="none" stroke="#3a3a3a" stroke-width="0.9"/>
<path d="M613.3,629.7 L616.3,633 L619.3,629.7" fill="none" stroke="#3a3a3a" stroke-width="0.9"/>
<circle cx="616.3" cy="620.2" r="1.1" fill="#222"/>
<path d="M612.0,636.1999999999999 Q613.6999999999999,638.3 616.3,638.3 Q618.9,638.3 620.5999999999999,636.1999999999999" fill="none" stroke="#2c2c2c" stroke-width="1.05"/>
<text x="631.3" y="611.7" font-size="7" >DRIVER</text>
<text x="631.3" y="620.8" font-size="7" >SIDE J/B</text>
<text x="631.3" y="629.8" font-size="7" >(BEHIND LEFT</text>
<text x="631.3" y="637.8" font-size="7" >SIDE OF DASH)</text>
<text x="612.2" y="679.8" text-anchor="end" font-size="7" >WHT/</text>
<text x="612.8" y="688.8" text-anchor="end" font-size="7" >BLK</text>
<circle cx="616.3" cy="708" r="1.2" fill="#222"/>
<line x1="611.5" y1="710.4" x2="621.1" y2="710.4" stroke="#222" stroke-width="0.9" />
<line x1="613" y1="712.5" x2="619.6" y2="712.5" stroke="#222" stroke-width="0.9" />
<line x1="614.8" y1="714.5" x2="617.8" y2="714.5" stroke="#222" stroke-width="0.9" />
<text x="616.3" y="723.0" text-anchor="middle" font-size="7" >II</text>
<text x="615.4" y="732" text-anchor="middle" font-size="7" >(AT LEFT</text>
<text x="616.4" y="739.9" text-anchor="middle" font-size="7" >KICK PANEL)</text>
<circle cx="88.9" cy="579.5" r="3.95" fill="#fff" stroke="#333" stroke-width="0.85"/>
<text x="88.9" y="581.75" text-anchor="middle" font-size="6.3">1</text>
<text x="97.3" y="582.0" font-size="7" >AUTO A/C</text>
<circle cx="88.9" cy="591.5" r="3.95" fill="#fff" stroke="#333" stroke-width="0.85"/>
<text x="88.9" y="593.75" text-anchor="middle" font-size="6.3">2</text>
<text x="97.3" y="594.0" font-size="7" >MANUAL A/C</text>
<circle cx="88.9" cy="604.3" r="3.95" fill="#fff" stroke="#333" stroke-width="0.85"/>
<text x="88.9" y="606.55" text-anchor="middle" font-size="6.3">3</text>
<text x="97.3" y="606.8" font-size="7" >SEPARATE TYPE AMPLIFIER</text>
<circle cx="88.9" cy="615.6" r="3.95" fill="#fff" stroke="#333" stroke-width="0.85"/>
<text x="88.9" y="617.85" text-anchor="middle" font-size="6.3">4</text>
<text x="97.3" y="618.1" font-size="7" >BUILT-IN TYPE AMPLIFIER</text>
<circle cx="88.9" cy="626.7" r="3.95" fill="#fff" stroke="#333" stroke-width="0.85"/>
<text x="88.9" y="628.95" text-anchor="middle" font-size="6.3">5</text>
<text x="97.3" y="629.2" font-size="7" >MANUAL A/C TMMK MADE</text>
<circle cx="88.9" cy="638.5" r="3.95" fill="#fff" stroke="#333" stroke-width="0.85"/>
<text x="88.9" y="640.75" text-anchor="middle" font-size="6.3">6</text>
<text x="97.3" y="641.0" font-size="7" >MANUAL A/C TMC MADE</text>
<circle cx="88.9" cy="650.4" r="3.95" fill="#fff" stroke="#333" stroke-width="0.85"/>
<text x="88.9" y="652.65" text-anchor="middle" font-size="6.3">7</text>
<text x="97.3" y="652.9" font-size="7" >AUTO A/C TMMK MADE</text>
<circle cx="88.9" cy="662.4" r="3.95" fill="#fff" stroke="#333" stroke-width="0.85"/>
<text x="88.9" y="664.65" text-anchor="middle" font-size="6.3">8</text>
<text x="97.3" y="664.9" font-size="7" >AUTO A/C TMC MADE</text>
<circle cx="88.9" cy="674.6" r="3.95" fill="#fff" stroke="#333" stroke-width="0.85"/>
<text x="88.9" y="676.85" text-anchor="middle" font-size="6.3">9</text>
<text x="97.3" y="677.1" font-size="7" >W/ NAVIGATION</text>
<circle cx="88.9" cy="686.4" r="3.95" fill="#fff" stroke="#333" stroke-width="0.85"/>
<text x="88.9" y="688.4" text-anchor="middle" font-size="5.2" textLength="5.6" lengthAdjust="spacingAndGlyphs">10</text>
<text x="97.3" y="688.9" font-size="7" >W/O NAVIGATION</text>
<text x="36.4" y="761.9" font-size="7" >177018</text>
</g>
</svg>
</body></html>
